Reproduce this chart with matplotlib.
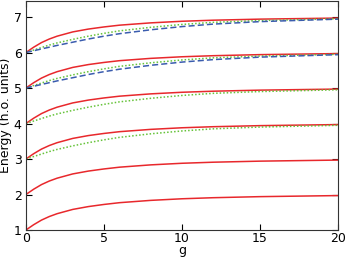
import matplotlib
matplotlib.use('Agg')
import matplotlib.pyplot as plt

# interaction strength grid
g = [0, 0.5, 1, 1.5, 2, 3, 4, 5, 6, 8, 10, 12, 15, 20]

# red solid branch, one list per level
red_1 = [1.00, 1.15, 1.28, 1.38, 1.46, 1.58, 1.66, 1.72, 1.77, 1.835, 1.88, 1.91, 1.94, 1.97]
red_2 = [2.00, 2.15, 2.28, 2.38, 2.46, 2.58, 2.66, 2.72, 2.77, 2.835, 2.88, 2.91, 2.94, 2.97]
red_3 = [3.00, 3.15, 3.28, 3.38, 3.46, 3.58, 3.66, 3.72, 3.77, 3.835, 3.88, 3.91, 3.94, 3.97]
red_4 = [4.00, 4.15, 4.28, 4.38, 4.46, 4.58, 4.66, 4.72, 4.77, 4.835, 4.88, 4.91, 4.94, 4.97]
red_5 = [5.00, 5.15, 5.28, 5.38, 5.46, 5.58, 5.66, 5.72, 5.77, 5.835, 5.88, 5.91, 5.94, 5.97]
red_6 = [6.00, 6.15, 6.28, 6.38, 6.46, 6.58, 6.66, 6.72, 6.77, 6.835, 6.88, 6.91, 6.94, 6.97]

# green dotted branch
green_3 = [3.00, 3.07, 3.14, 3.21, 3.27, 3.37, 3.46, 3.54, 3.61, 3.71, 3.79, 3.85, 3.90, 3.95]
green_4 = [4.00, 4.07, 4.14, 4.21, 4.27, 4.37, 4.46, 4.54, 4.61, 4.71, 4.79, 4.85, 4.90, 4.95]
green_5 = [5.00, 5.07, 5.14, 5.21, 5.27, 5.37, 5.46, 5.54, 5.61, 5.71, 5.79, 5.85, 5.90, 5.95]
green_6 = [6.00, 6.07, 6.14, 6.21, 6.27, 6.37, 6.46, 6.54, 6.61, 6.71, 6.79, 6.85, 6.90, 6.95]

# blue dashed branch
blue_5 = [5.00, 5.05, 5.10, 5.15, 5.20, 5.29, 5.38, 5.46, 5.53, 5.64, 5.73, 5.80, 5.87, 5.94]
blue_6 = [6.00, 6.05, 6.10, 6.15, 6.20, 6.29, 6.38, 6.46, 6.53, 6.64, 6.73, 6.80, 6.87, 6.94]

plt.rcParams['font.family'] = ['DejaVu Sans']
plt.rcParams['font.size'] = 9

fig = plt.figure(figsize=(3.5, 2.57), dpi=100)
ax = fig.add_axes([0.074, 0.105, 0.892, 0.891])

for e in [red_1, red_2, red_3, red_4, red_5, red_6]:
    ax.plot(g, e, color='#e8282c', lw=1.1)
for e in [green_3, green_4, green_5, green_6]:
    ax.plot(g, e, color='#66c33a', lw=1.1, ls=(0, (1, 1.3)))
for e in [blue_5, blue_6]:
    ax.plot(g, e, color='#3a5cae', lw=1.1, ls=(0, (4, 2)))

ax.set_xlim(0, 20)
ax.set_ylim(1, 7.45)
ax.set_xticks([0, 5, 10, 15, 20])
ax.set_yticks([1, 2, 3, 4, 5, 6, 7])
ax.tick_params(direction='in', top=True, right=True, length=4, width=0.8)
ax.tick_params(axis='x', pad=1.5)
ax.tick_params(axis='y', pad=3)
for s in ax.spines.values():
    s.set_color('#333333')
ax.set_xlabel('g', labelpad=-0.5)
ax.set_ylabel('Energy (h.o. units)', labelpad=1)

fig.savefig('out.png', dpi=100)
